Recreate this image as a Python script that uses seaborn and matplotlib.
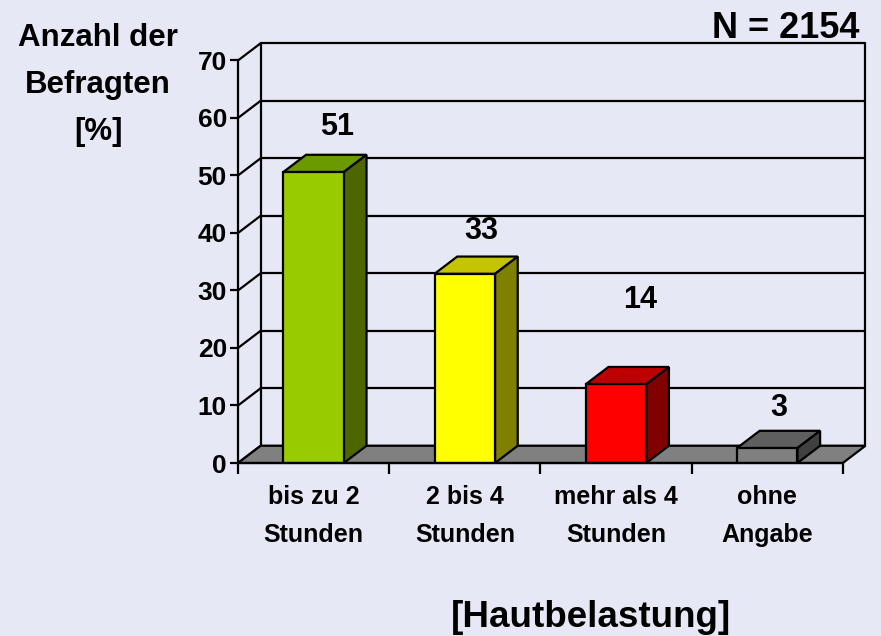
import matplotlib
matplotlib.use("Agg")
import matplotlib.pyplot as plt
import seaborn as sns
from matplotlib.patches import Polygon

# data
categories = ["bis zu 2\nStunden", "2 bis 4\nStunden", "mehr als 4\nStunden", "ohne\nAngabe"]
values = [50.6, 32.9, 13.7, 2.6]
value_labels = ["51", "33", "14", "3"]
y_ticks = [0, 10, 20, 30, 40, 50, 60, 70]

# styles (front, top, side)
front_colors = ["#99CC00", "#FFFF00", "#FF0000", "#808080"]
top_colors = ["#6B9900", "#C4C400", "#C00000", "#5F5F5F"]
side_colors = ["#4D6600", "#808000", "#800000", "#404040"]
label_dx = [0.155, 0.107, 0.158, 0.077]
label_dy = [7.8, 7.4, 14.6, 7.0]

bg = "#E6E9F5"
dx, dy = 0.15, 3.0  # depth offset in data units
lw = 1.6

sns.set_theme(style="white")
plt.rcParams["font.family"] = ["Liberation Sans", "DejaVu Sans"]
plt.rcParams["font.weight"] = "bold"
plt.rcParams["text.color"] = "black"
plt.rcParams["xtick.color"] = "black"
plt.rcParams["ytick.color"] = "black"

fig = plt.figure(figsize=(8.81, 6.36), dpi=100, facecolor=bg)
ax = fig.add_axes([0.27015, 0.27201, 0.71396, 0.66274])
ax.set_facecolor("none")

sns.barplot(x=categories, y=values, hue=categories, palette=front_colors,
            legend=False, width=0.4, saturation=1, edgecolor="black",
            linewidth=lw, ax=ax, zorder=4)

# back wall: gridlines, left diagonals, edges
for v in y_ticks:
    ax.plot([-0.5 + dx, 3.5 + dx], [v + dy, v + dy], color="black", lw=lw, zorder=1, clip_on=False)
    ax.plot([-0.5, -0.5 + dx], [v, v + dy], color="black", lw=lw, zorder=1, clip_on=False)
ax.plot([-0.5 + dx, -0.5 + dx], [dy, 70 + dy], color="black", lw=lw, zorder=1, clip_on=False)
ax.plot([3.5 + dx, 3.5 + dx], [dy, 70 + dy], color="black", lw=lw, zorder=1, clip_on=False)

# floor
floor = Polygon([(-0.5, 0), (3.5, 0), (3.5 + dx, dy), (-0.5 + dx, dy)], closed=True,
                facecolor="#808080", edgecolor="black", lw=lw, zorder=2, clip_on=False)
ax.add_patch(floor)

# 3d top and side faces from the bars seaborn drew
bars = sorted([p for c in ax.containers for p in c], key=lambda p: p.get_x())
for i, p in enumerate(bars):
    x0, w, h = p.get_x(), p.get_width(), p.get_height()
    top = Polygon([(x0, h), (x0 + w, h), (x0 + w + dx, h + dy), (x0 + dx, h + dy)],
                  closed=True, facecolor=top_colors[i], edgecolor="black", lw=lw, zorder=3, clip_on=False)
    side = Polygon([(x0 + w, 0), (x0 + w + dx, dy), (x0 + w + dx, h + dy), (x0 + w, h)],
                   closed=True, facecolor=side_colors[i], edgecolor="black", lw=lw, zorder=3, clip_on=False)
    ax.add_patch(top)
    ax.add_patch(side)
    ax.text(i + label_dx[i], values[i] + label_dy[i], value_labels[i], ha="center", va="center",
            fontsize=22, fontweight="bold", color="black")

ax.set_xlim(-0.5, 3.66)
ax.set_ylim(0, 73.3)

for s in ["top", "right"]:
    ax.spines[s].set_visible(False)
ax.spines["left"].set_bounds(0, 70)
ax.spines["bottom"].set_bounds(-0.5, 3.5)
for s in ["left", "bottom"]:
    ax.spines[s].set_color("black")
    ax.spines[s].set_linewidth(lw)
    ax.spines[s].set_zorder(5)

ax.set_yticks(y_ticks)
ax.set_yticklabels([str(t) for t in y_ticks])
ax.tick_params(axis="y", direction="out", length=6, width=lw, color="black",
               labelsize=19, pad=2, left=True)
ax.set_xticks(range(len(categories)))
ax.set_xticklabels(categories, linespacing=1.7)
ax.set_xticks([-0.5, 0.5, 1.5, 2.5, 3.5], minor=True)
ax.tick_params(axis="x", which="major", length=0, labelsize=18, pad=16)
ax.tick_params(axis="x", which="minor", direction="out", length=8, width=lw, color="black", bottom=True)
for t in ax.get_xticklabels() + ax.get_yticklabels():
    t.set_fontweight("bold")
ax.set_xlabel("")
ax.set_ylabel("")

fig.text(98 / 881, 1 - 85 / 636, "Anzahl der\nBefragten\n[%]", ha="center", va="center",
         fontsize=22.5, fontweight="bold", linespacing=1.72)
fig.text(860 / 881, 1 - 38 / 636, "N = 2154", ha="right", va="baseline",
         fontsize=26, fontweight="bold")
fig.text(591 / 881, 1 - 627 / 636, "[Hautbelastung]", ha="center", va="baseline",
         fontsize=26.5, fontweight="bold")

fig.savefig("out.png", dpi=100, facecolor=bg)
